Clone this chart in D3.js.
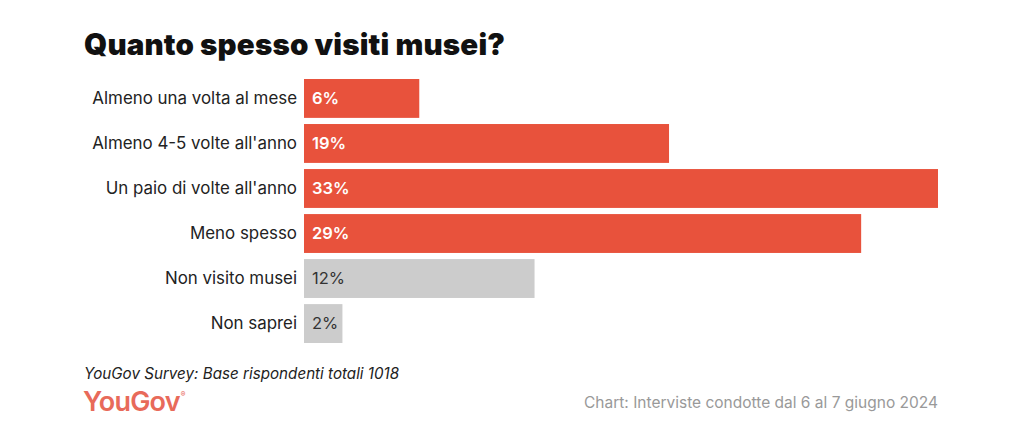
<!DOCTYPE html>
<html>
<head>
<meta charset="utf-8">
<script src="https://cdn.jsdelivr.net/npm/d3@7"></script>
<style>
  html, body { margin: 0; padding: 0; background: #fff; }
  svg { display: block; }
</style>
</head>
<body>
<div id="chart"></div>
<script>
// ─── Data ───────────────────────────────────────────────────────
const categories = [
    'Almeno una volta al mese',
    'Almeno 4-5 volte all\'anno',
    'Un paio di volte all\'anno',
    'Meno spesso',
    'Non visito musei',
    'Non saprei'
];
const values = [6, 19, 33, 29, 12, 2];
const highlighted = [true, true, true, true, false, false];

const title = 'Quanto spesso visiti musei?';
const sourceNote = 'YouGov Survey: Base rispondenti totali 1018';
const chartNote = 'Chart: Interviste condotte dal 6 al 7 giugno 2024';

// ─── Layout ─────────────────────────────────────────────────────
const width = 1024, height = 439;
const RED = '#e8523c';
const GREY = '#cccccc';
const FONT = "Inter, 'Open Sans', Roboto, sans-serif";

const svg = d3.select('#chart').append('svg')
    .attr('width', width)
    .attr('height', height);

const x = d3.scaleLinear()
    .domain([0, d3.max(values)])
    .range([304, 938]);

const y = d3.scaleBand()
    .domain(categories)
    .range([79, 343])
    .paddingInner(6 / 44)
    .paddingOuter(0);

// title
svg.append('text')
    .attr('x', 84)
    .attr('y', 55)
    .attr('font-family', FONT)
    .attr('font-weight', 900)
    .attr('font-size', 29.5)
    .attr('fill', '#111')
    .attr('textLength', 421)
    .attr('lengthAdjust', 'spacing')
    .text(title);

// bars
const rows = svg.append('g').selectAll('g')
    .data(categories)
    .join('g');

rows.append('rect')
    .attr('x', x(0))
    .attr('y', d => y(d))
    .attr('width', (d, i) => x(values[i]) - x(0))
    .attr('height', y.bandwidth())
    .attr('fill', (d, i) => highlighted[i] ? RED : GREY);

// category labels
rows.append('text')
    .attr('x', x(0) - 7)
    .attr('y', d => y(d) + y.bandwidth() / 2)
    .attr('dy', '0.35em')
    .attr('text-anchor', 'end')
    .attr('font-family', FONT)
    .attr('font-size', 16.9)
    .attr('fill', '#222')
    .text(d => d);

// value labels
rows.append('text')
    .attr('x', x(0) + 8)
    .attr('y', d => y(d) + y.bandwidth() / 2)
    .attr('dy', '0.35em')
    .attr('font-family', FONT)
    .attr('font-size', 16.5)
    .attr('font-weight', (d, i) => highlighted[i] ? 600 : 400)
    .attr('fill', (d, i) => highlighted[i] ? '#fff' : '#333')
    .text((d, i) => values[i] + '%');

// footer
svg.append('text')
    .attr('x', 84)
    .attr('y', 379)
    .attr('font-family', FONT)
    .attr('font-style', 'italic')
    .attr('font-size', 15.2)
    .attr('fill', '#222')
    .text(sourceNote);

const logo = svg.append('text')
    .attr('x', 83)
    .attr('y', 411)
    .attr('font-family', FONT)
    .attr('font-size', 27)
    .attr('font-weight', 600)
    .attr('letter-spacing', -0.8)
    .attr('fill', '#e86a5a')
    .text('YouGov');
logo.append('tspan')
    .attr('font-size', 7)
    .attr('dy', -14)
    .attr('dx', 1)
    .text('®');

svg.append('text')
    .attr('x', 938)
    .attr('y', 408)
    .attr('text-anchor', 'end')
    .attr('font-family', FONT)
    .attr('font-size', 15.5)
    .attr('fill', '#999')
    .text(chartNote);
</script>
</body>
</html>
